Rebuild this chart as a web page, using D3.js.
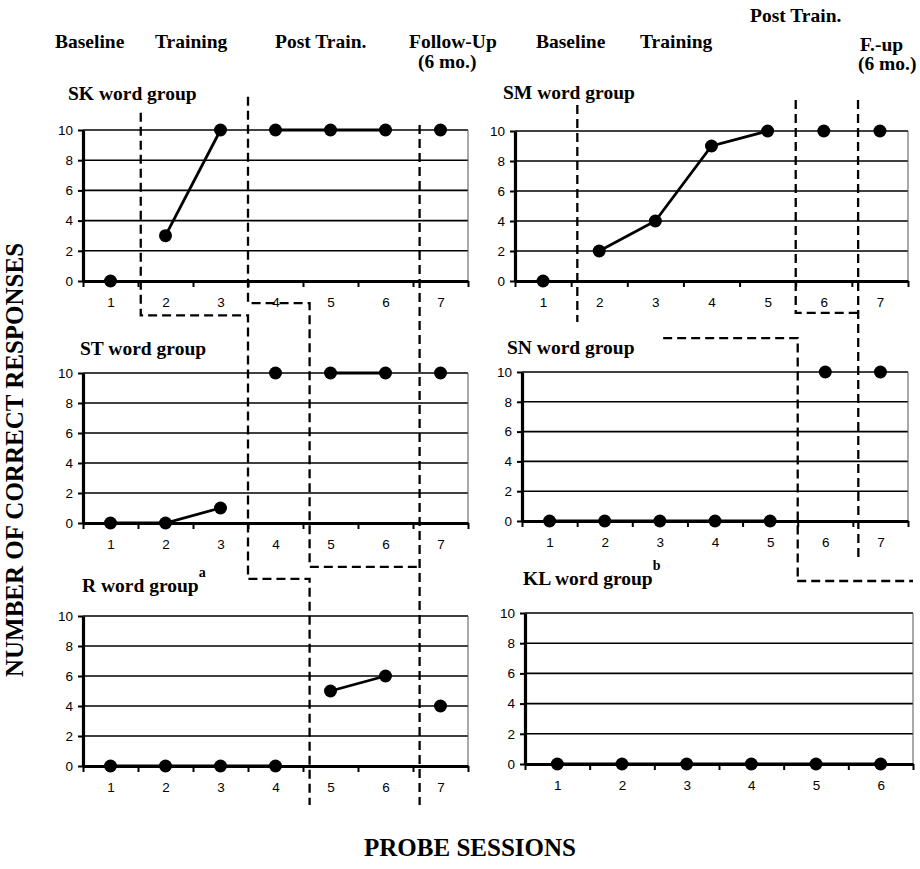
<!DOCTYPE html>
<html><head><meta charset="utf-8">
<script src="https://cdn.jsdelivr.net/npm/d3@7"></script>
<style>body{margin:0;background:#fff}</style>
</head><body><svg id="c" width="920" height="869"></svg>
<script>
// ---------- data ----------
const sessions7 = ["1","2","3","4","5","6","7"];
const sessions6 = ["1","2","3","4","5","6"];
const yTickValues = [0,2,4,6,8,10];

const skValues = [0,3,10,10,10,10,10];
const smValues = [0,2,4,9,10,10,10];
const stValues = [0,0,1,10,10,10,10];
const snValues = [0,0,0,0,0,10,10];
const rValues  = [0,0,0,0,5,6,4];
const klValues = [0,0,0,0,0,0];

// phase id per session (points are joined only within a phase)
const skPhases = [1,2,2,3,3,3,4];
const smPhases = [1,2,2,2,2,3,4];
const stPhases = [1,1,1,2,3,3,4];
const snPhases = [1,1,1,1,1,3,4];
const rPhases  = [1,1,1,1,2,2,4];
const klPhases = [1,1,1,1,1,1];

const groupNames = ["SK word group","SM word group","ST word group","SN word group","R word group","KL word group"];
const groupNotes = ["","","","","a","b"];

const headersLeft  = ["Baseline","Training","Post Train.","Follow-Up","(6 mo.)"];
const headersRight = ["Baseline","Training","Post Train.","F.-up","(6 mo.)"];
const yTitle = "NUMBER OF CORRECT RESPONSES";
const xTitle = "PROBE SESSIONS";

// phase-change lines: [panel, session position, value position]
const phaseLines = [
  [["SK",1.55,11.15],["SK",1.55,-2.27],["SK",3.5,-2.27],["R",3.5,12.47],["R",4.62,12.47],["R",4.62,-2.6]],
  [["SK",3.5,12.2],["SK",3.5,-1.47],["SK",4.62,-1.47],["R",4.62,13.27],["R",6.62,13.27]],
  [["SK",6.62,10.33],["R",6.62,-2.6]],
  [["SM",1.61,11.73],["SM",1.61,-2.73]],
  [["SN",3.06,12.28],["SN",5.5,12.28],["SN",5.5,-4.03],["KL",4.71,12.12],["KL",6.5,12.12]],
  [["SM",5.5,12.07],["SM",5.5,-2.13],["SM",6.61,-2.13]],
  [["SM",6.61,12.07],["SN",6.6,-2.48]]
];

// ---------- layout ----------
const panels = [
  {key:"SK", values:skValues, phases:skPhases, cats:sessions7, name:0, x0:83,  x1:468, yTop:130, yBot:281, tx:68,  ty:100},
  {key:"SM", values:smValues, phases:smPhases, cats:sessions7, name:1, x0:515, x1:908, yTop:131, yBot:281, tx:503, ty:99},
  {key:"ST", values:stValues, phases:stPhases, cats:sessions7, name:2, x0:83,  x1:468, yTop:373, yBot:523, tx:80,  ty:355},
  {key:"SN", values:snValues, phases:snPhases, cats:sessions7, name:3, x0:522, x1:908, yTop:372, yBot:521, tx:507, ty:354},
  {key:"R",  values:rValues,  phases:rPhases,  cats:sessions7, name:4, x0:83,  x1:468, yTop:616, yBot:766, tx:82,  ty:592},
  {key:"KL", values:klValues, phases:klPhases, cats:sessions6, name:5, x0:525, x1:913, yTop:613, yBot:764, tx:523, ty:585}
];
const SERIF = "'Liberation Serif','Times New Roman',serif";
const SANS = "'Liberation Sans',Arial,Helvetica,sans-serif";

const svg = d3.select("#c");
svg.append("rect").attr("width",920).attr("height",869).attr("fill","#fff");

const scales = {};
panels.forEach(p => {
  const n = p.cats.length;
  const x = d3.scaleLinear().domain([0.5, n+0.5]).range([p.x0, p.x1]);
  const y = d3.scaleLinear().domain([0,10]).range([p.yBot, p.yTop]);
  scales[p.key] = {x, y};
  const g = svg.append("g");

  // gridlines
  g.selectAll("line.grid").data(yTickValues.filter(v=>v>0)).enter().append("line")
    .attr("x1", p.x0).attr("x2", p.x1).attr("y1", d=>y(d)).attr("y2", d=>y(d))
    .attr("stroke","#000").attr("stroke-width",1.6);
  // right frame
  g.append("line").attr("x1",p.x1).attr("x2",p.x1).attr("y1",y(10)).attr("y2",y(0))
    .attr("stroke","#555").attr("stroke-width",1);

  // y axis
  const ya = g.append("g").attr("transform",`translate(${p.x0},0)`)
    .call(d3.axisLeft(y).tickValues(yTickValues).tickSize(5).tickSizeOuter(0).tickPadding(5));
  ya.select(".domain").attr("stroke","#000").attr("stroke-width",3.2);
  ya.selectAll(".tick line").attr("stroke","#000").attr("stroke-width",2);
  ya.selectAll("text").attr("font-family",SANS).attr("font-size",13.5).attr("fill","#000");

  // x axis: ticks at boundaries
  const bounds = d3.range(0, n+1).map(i=>i+0.5);
  const xa = g.append("g").attr("transform",`translate(0,${p.yBot})`)
    .call(d3.axisBottom(x).tickValues(bounds).tickFormat("").tickSize(6).tickSizeOuter(0));
  xa.select(".domain").attr("stroke","#000").attr("stroke-width",3.2);
  xa.selectAll(".tick line").attr("stroke","#000").attr("stroke-width",2);
  // x labels at centres
  const xl = g.append("g").attr("transform",`translate(0,${p.yBot})`)
    .call(d3.axisBottom(x).tickValues(d3.range(1,n+1)).tickFormat((d,i)=>p.cats[i]).tickSize(0).tickPadding(16));
  xl.select(".domain").remove();
  xl.selectAll("text").attr("font-family",SANS).attr("font-size",13.5).attr("fill","#000");

  // lines within phases
  const pts = p.values.map((v,i)=>({s:i+1, v, ph:p.phases[i]}));
  const groups = d3.groups(pts, d=>d.ph);
  const line = d3.line().x(d=>x(d.s)).y(d=>y(d.v));
  groups.forEach(([ph, arr]) => {
    if (arr.length > 1) g.append("path").attr("d", line(arr)).attr("fill","none")
      .attr("stroke","#000").attr("stroke-width",2.8);
  });
  g.selectAll("circle").data(pts).enter().append("circle")
    .attr("cx", d=>x(d.s)).attr("cy", d=>y(d.v)).attr("r",6.5).attr("fill","#000");

  // title
  const t = svg.append("text").attr("x",p.tx).attr("y",p.ty)
    .attr("font-family",SERIF).attr("font-weight","bold").attr("font-size",19.5).attr("fill","#000")
    .text(groupNames[p.name]);
  if (groupNotes[p.name]) {
    t.append("tspan").attr("dy",-15).attr("font-size",14).text(groupNotes[p.name]);
  }
});

// phase-change dashed lines
const pl = d3.line().x(d=>scales[d[0]].x(d[1])).y(d=>scales[d[0]].y(d[2]));
phaseLines.forEach(path => {
  svg.append("path").attr("d", pl(path)).attr("fill","none")
    .attr("stroke","#000").attr("stroke-width",2.3).attr("stroke-dasharray","9,5");
});

// phase headers
const hdrPos = [
  [55,48],[155,48],[275,48],[409,48],[418,68],
  [536,48],[640,48],[750,22],[860,51],[858,70]
];
headersLeft.concat(headersRight).forEach((h,i) => {
  svg.append("text").attr("x",hdrPos[i][0]).attr("y",hdrPos[i][1])
    .attr("font-family",SERIF).attr("font-weight","bold").attr("font-size",19.5).attr("fill","#000")
    .text(h);
});

// axis titles
svg.append("text").attr("transform","translate(23,460) rotate(-90)")
  .attr("text-anchor","middle").attr("font-family",SERIF).attr("font-weight","bold")
  .attr("font-size",25).attr("fill","#000").text(yTitle);
svg.append("text").attr("x",470).attr("y",856).attr("text-anchor","middle")
  .attr("font-family",SERIF).attr("font-weight","bold").attr("font-size",25).attr("fill","#000")
  .text(xTitle);
</script></body></html>
